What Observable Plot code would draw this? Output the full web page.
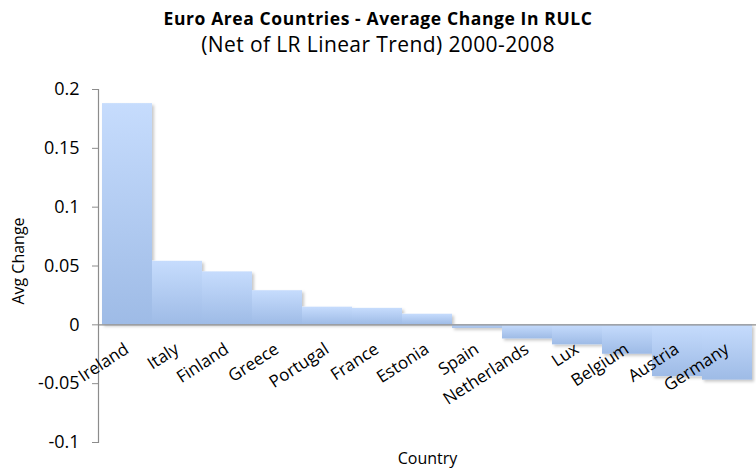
<!DOCTYPE html>
<html>
<head>
<meta charset="utf-8">
<script src="https://cdn.jsdelivr.net/npm/d3@7"></script>
<script src="https://cdn.jsdelivr.net/npm/@observablehq/plot@0.6"></script>
<style>
  html, body { margin: 0; padding: 0; background: #fff; }
  #chart { position: relative; width: 756px; height: 475px; font-family: "Open Sans", Lato, sans-serif; color: #000; }
  #header { position: relative; height: 62px; }
  #title { position: absolute; left: 0; top: 8px; width: 756px; text-align: center; font-size: 17.5px; letter-spacing: 0.6px; font-weight: bold; line-height: 20px; }
  #subtitle { position: absolute; left: 0; top: 31.5px; width: 756px; text-align: center; font-size: 21px; letter-spacing: 0.4px; line-height: 24px; }
</style>
</head>
<body>
<div id="chart">
  <div id="header">
    <div id="title">Euro Area Countries - Average Change In RULC</div>
    <div id="subtitle">(Net of LR Linear Trend) 2000-2008</div>
  </div>
</div>
<script>
// Average change in relative unit labour cost, net of long-run linear trend, 2000-2008
const countries = ["Ireland", "Italy", "Finland", "Greece", "Portugal", "France", "Estonia",
                   "Spain", "Netherlands", "Lux", "Belgium", "Austria", "Germany"];
const avgChange = [0.188, 0.054, 0.045, 0.029, 0.015, 0.014, 0.009,
                   -0.003, -0.012, -0.017, -0.025, -0.044, -0.047];
const yTicks = [-0.1, -0.05, 0, 0.05, 0.1, 0.15, 0.2];

const rows = countries.map((c, i) => ({country: c, value: avgChange[i]}));

// gradient fill and soft shadow for the bars
const defs = () => {
  const d = d3.create("svg:defs");
  const g = d.append("linearGradient").attr("id", "barGrad")
    .attr("x1", 0).attr("y1", 0).attr("x2", 0).attr("y2", 1);
  g.append("stop").attr("offset", "0%").attr("stop-color", "#c6dcfd");
  g.append("stop").attr("offset", "100%").attr("stop-color", "#9ebbe6");
  const f = d.append("filter").attr("id", "barShadow")
    .attr("x", "-10%").attr("y", "-10%").attr("width", "130%").attr("height", "130%");
  f.append("feDropShadow").attr("dx", 2).attr("dy", 2).attr("stdDeviation", 1.5)
    .attr("flood-color", "#000").attr("flood-opacity", 0.22);
  return d.node();
};

const fmt = d => d === 0 ? "0" : String(Math.round(d * 100) / 100);

const plot = Plot.plot({
  width: 756,
  height: 413,
  marginTop: 27,
  marginBottom: 33,
  marginLeft: 98,
  marginRight: 0,
  style: {fontFamily: "'Open Sans', Lato, sans-serif", background: "#fff", color: "#000"},
  x: {type: "band", domain: countries, padding: 0, axis: null},
  y: {domain: [-0.1, 0.2], axis: null},
  marks: [
    defs,
    Plot.barY(rows, {x: "country", y: "value", fill: "url(#barGrad)"}),
    Plot.ruleY([0], {stroke: "#8c8c8c", strokeWidth: 1.2}),
    Plot.frame({anchor: "left", stroke: "#8c8c8c", strokeWidth: 1.2}),
    Plot.axisY(yTicks, {
      tickSize: 6, tickPadding: 13, tickFormat: fmt, stroke: "#8c8c8c",
      fontSize: 18, fill: "#000", label: null
    }),
    Plot.text(rows, {
      x: "country", y: () => 0, text: "country", rotate: -33,
      textAnchor: "end", lineAnchor: "top", dx: -4, dy: 17, fontSize: 17, fill: "#000"
    }),
    Plot.text(["Avg Change"], {
      frameAnchor: "left", textAnchor: "middle", lineAnchor: "middle",
      dx: -80, dy: -5, rotate: -90, text: d => d, fontSize: 16, fill: "#000"
    }),
    Plot.text(["Country"], {
      frameAnchor: "bottom", lineAnchor: "middle", dy: 16, text: d => d, fontSize: 16, fill: "#000"
    })
  ]
});

d3.select(plot).selectAll("g[aria-label=bar]").attr("filter", "url(#barShadow)");
document.getElementById("chart").appendChild(plot);
</script>
</body>
</html>
